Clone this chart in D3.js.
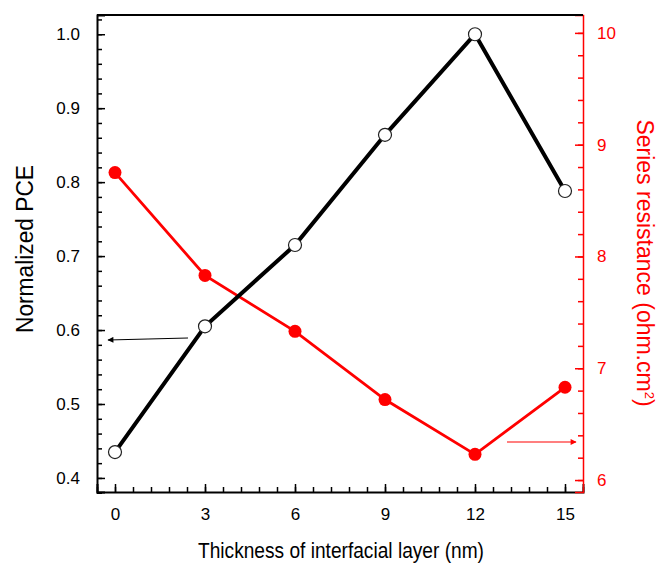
<!DOCTYPE html>
<html>
<head>
<meta charset="utf-8">
<script src="https://cdn.jsdelivr.net/npm/d3@7"></script>
<style>
  body { margin: 0; background: #fff; }
  svg { font-family: "Liberation Sans", Arial, sans-serif; }
</style>
</head>
<body>
<div id="chart"></div>
<script>
// data
const thickness = [0, 3, 6, 9, 12, 15];
const pce = [0.435, 0.605, 0.715, 0.864, 1.0, 0.788];
const resistance = [8.75, 7.83, 7.33, 6.72, 6.23, 6.83];
const xTicks = [0, 3, 6, 9, 12, 15];
const leftTicks = [0.4, 0.5, 0.6, 0.7, 0.8, 0.9, 1.0];
const rightTicks = [6, 7, 8, 9, 10];

const width = 659, height = 563;
const margin = { top: 15, right: 76, bottom: 71, left: 97 };
const red = "#ff0000";

const svg = d3.select("#chart").append("svg")
    .attr("width", width)
    .attr("height", height);

const x = d3.scaleLinear().domain([-0.6, 15.6]).range([margin.left, width - margin.right]);
const yL = d3.scaleLinear().domain([0.381, 1.026]).range([height - margin.bottom, margin.top]);
const yR = d3.scaleLinear().domain([5.893, 10.16]).range([height - margin.bottom, margin.top]);

const bottomY = height - margin.bottom;
const rightX = width - margin.right;

// minor ticks
const xMinor = d3.range(-0.6, 15.61, 0.6).map(v => +v.toFixed(2));
const lMinor = d3.range(0.38, 1.03, 0.02).map(v => +v.toFixed(2));
const rMinor = d3.range(6, 10.11, 0.2).map(v => +v.toFixed(2));

// ========================
// Axes
// ========================
svg.append("g")
    .attr("transform", `translate(0,${bottomY})`)
    .call(d3.axisBottom(x).tickValues(xTicks).tickSize(-8).tickPadding(16).tickFormat(d3.format("d")));
svg.append("g")
    .attr("transform", `translate(0,${bottomY})`)
    .call(d3.axisBottom(x).tickValues(xMinor).tickSize(-5).tickFormat(""))
    .call(g => g.select(".domain").remove());

svg.append("g")
    .attr("transform", `translate(${margin.left},0)`)
    .call(d3.axisLeft(yL).tickValues(leftTicks).tickSize(-8).tickPadding(17).tickFormat(d3.format(".1f")));
svg.append("g")
    .attr("transform", `translate(${margin.left},0)`)
    .call(d3.axisLeft(yL).tickValues(lMinor).tickSize(-5).tickFormat(""))
    .call(g => g.select(".domain").remove());

const rAxis = svg.append("g")
    .attr("class", "raxis")
    .attr("transform", `translate(${rightX},0)`)
    .call(d3.axisRight(yR).tickValues(rightTicks).tickSize(-8).tickPadding(14).tickFormat(d3.format("d")));
svg.append("g")
    .attr("class", "raxis")
    .attr("transform", `translate(${rightX},0)`)
    .call(d3.axisRight(yR).tickValues(rMinor).tickSize(-5).tickFormat(""))
    .call(g => g.select(".domain").remove());

svg.selectAll(".tick line").attr("stroke-width", 1.5);
svg.selectAll(".domain").attr("stroke-width", 2);
svg.selectAll(".raxis").selectAll("line, path").attr("stroke", red).attr("stroke-width", 1.5);
rAxis.selectAll("text").attr("fill", red);
svg.selectAll("g").attr("font-size", 17).attr("font-family", "'Liberation Sans', Arial, sans-serif");

// top frame line
svg.append("line")
    .attr("x1", margin.left).attr("x2", rightX)
    .attr("y1", margin.top).attr("y2", margin.top)
    .attr("stroke", "#000").attr("stroke-width", 2);

// ========================
// Series
// ========================
const blackLine = d3.line().x((d, i) => x(thickness[i])).y(d => yL(d));
const redLine = d3.line().x((d, i) => x(thickness[i])).y(d => yR(d));

svg.append("path").datum(resistance)
    .attr("d", redLine).attr("fill", "none").attr("stroke", red).attr("stroke-width", 2.8);
svg.selectAll(".rdot").data(resistance).enter().append("circle")
    .attr("cx", (d, i) => x(thickness[i])).attr("cy", d => yR(d)).attr("r", 6.5)
    .attr("fill", red);

svg.append("path").datum(pce)
    .attr("d", blackLine).attr("fill", "none").attr("stroke", "#000").attr("stroke-width", 4);
svg.selectAll(".bdot").data(pce).enter().append("circle")
    .attr("cx", (d, i) => x(thickness[i])).attr("cy", d => yL(d)).attr("r", 6.5)
    .attr("fill", "#fff").attr("stroke", "#222").attr("stroke-width", 1.2);

// ========================
// Arrows
// ========================
const defs = svg.append("defs");
[["ab", "#000"], ["ar", red]].forEach(([id, c]) => {
    defs.append("marker").attr("id", id)
        .attr("viewBox", "0 0 10 10").attr("refX", 9).attr("refY", 5)
        .attr("markerWidth", 7).attr("markerHeight", 5).attr("orient", "auto")
        .append("path").attr("d", "M0,0L10,5L0,10Z").attr("fill", c);
});
svg.append("line").attr("x1", 188).attr("y1", 338).attr("x2", 108).attr("y2", 340)
    .attr("stroke", "#000").attr("stroke-width", 1.2).attr("marker-end", "url(#ab)");
svg.append("line").attr("x1", 507).attr("y1", 442).attr("x2", 576).attr("y2", 442)
    .attr("stroke", red).attr("stroke-width", 1.2).attr("marker-end", "url(#ar)");

// ========================
// Axis titles
// ========================
svg.append("text")
    .attr("x", 341).attr("y", 558)
    .attr("text-anchor", "middle")
    .attr("textLength", 286).attr("lengthAdjust", "spacingAndGlyphs")
    .style("font-size", "22px")
    .text("Thickness of interfacial layer (nm)");

svg.append("text")
    .attr("transform", `translate(33,249) rotate(-90)`)
    .attr("text-anchor", "middle")
    .attr("textLength", 168).attr("lengthAdjust", "spacingAndGlyphs")
    .style("font-size", "23px")
    .text("Normalized PCE");

const rt = svg.append("text")
    .attr("transform", `translate(637,263) rotate(90)`)
    .attr("text-anchor", "middle")
    .attr("fill", red)
    .style("font-size", "23px");
rt.append("tspan").text("Series resistance (ohm.cm");
rt.append("tspan").attr("dy", -8).style("font-size", "13px").text("2");
rt.append("tspan").attr("dy", 8).text(")");
</script>
</body>
</html>
